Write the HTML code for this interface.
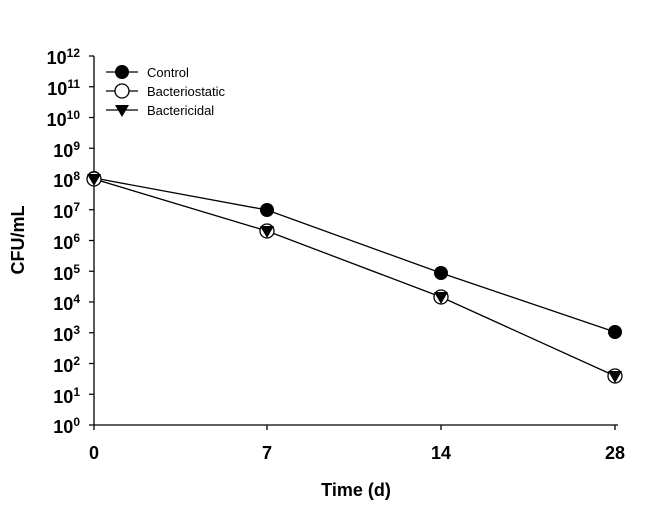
<!DOCTYPE html>
<html><head><style>body{margin:0;background:#fff}</style></head><body>
<svg width="666" height="504" xmlns="http://www.w3.org/2000/svg" font-family="Liberation Sans, Arial, sans-serif">
<g stroke="#000" stroke-width="1.3" fill="none">
<line x1="94" y1="56" x2="94" y2="425"/>
<line x1="94" y1="425" x2="618" y2="425"/>
<path d="M89 56h5M89 86.75h5M89 117.5h5M89 148.25h5M89 179h5M89 209.75h5M89 240.5h5M89 271.25h5M89 302h5M89 332.75h5M89 363.5h5M89 394.25h5M89 425h5"/>
<path d="M94 425v5M267 425v5M441 425v5M615 425v5"/>
<polyline points="94,178 267,210 441,273 615,332"/>
<polyline points="94,179 267,231 441,297 615,376"/>
<line x1="106" y1="72" x2="138" y2="72"/><line x1="106" y1="91" x2="138" y2="91"/><line x1="106" y1="110" x2="138" y2="110"/>
</g>
<g fill="#000">
<circle cx="267" cy="210" r="7"/><circle cx="441" cy="273" r="7"/><circle cx="615" cy="332" r="7"/>
<circle cx="94" cy="178" r="7"/>
<circle cx="122" cy="72" r="7"/>
</g>
<g fill="#fff" stroke="#000" stroke-width="1.3">
<circle cx="94" cy="179" r="7"/><circle cx="267" cy="231" r="7"/><circle cx="441" cy="297" r="7"/><circle cx="615" cy="376" r="7"/>
<circle cx="122" cy="91" r="7"/>
</g>
<g fill="#000">
<path d="M87 174h14l-7 12z"/><path d="M260 226h14l-7 12z"/><path d="M434 292h14l-7 12z"/><path d="M608 371h14l-7 12z"/>
<path d="M115 105h14l-7 12z"/>
</g>
<g font-size="13">
<text x="147" y="77">Control</text><text x="147" y="96">Bacteriostatic</text><text x="147" y="115">Bactericidal</text>
</g>
<g font-size="18" font-weight="bold" text-anchor="end">
<text x="80" y="64">10<tspan font-size="12" dy="-7">12</tspan></text>
<text x="80" y="95">10<tspan font-size="12" dy="-7">11</tspan></text>
<text x="80" y="126">10<tspan font-size="12" dy="-7">10</tspan></text>
<text x="80" y="157">10<tspan font-size="12" dy="-7">9</tspan></text>
<text x="80" y="187">10<tspan font-size="12" dy="-7">8</tspan></text>
<text x="80" y="218">10<tspan font-size="12" dy="-7">7</tspan></text>
<text x="80" y="249">10<tspan font-size="12" dy="-7">6</tspan></text>
<text x="80" y="280">10<tspan font-size="12" dy="-7">5</tspan></text>
<text x="80" y="310">10<tspan font-size="12" dy="-7">4</tspan></text>
<text x="80" y="341">10<tspan font-size="12" dy="-7">3</tspan></text>
<text x="80" y="372">10<tspan font-size="12" dy="-7">2</tspan></text>
<text x="80" y="403">10<tspan font-size="12" dy="-7">1</tspan></text>
<text x="80" y="433">10<tspan font-size="12" dy="-7">0</tspan></text>
</g>
<g font-size="18" font-weight="bold" text-anchor="middle">
<text x="94" y="459">0</text><text x="267" y="459">7</text><text x="441" y="459">14</text><text x="615" y="459">28</text>
<text x="356" y="496">Time (d)</text>
<text transform="translate(24,240) rotate(-90)">CFU/mL</text>
</g>
</svg>
</body></html>
